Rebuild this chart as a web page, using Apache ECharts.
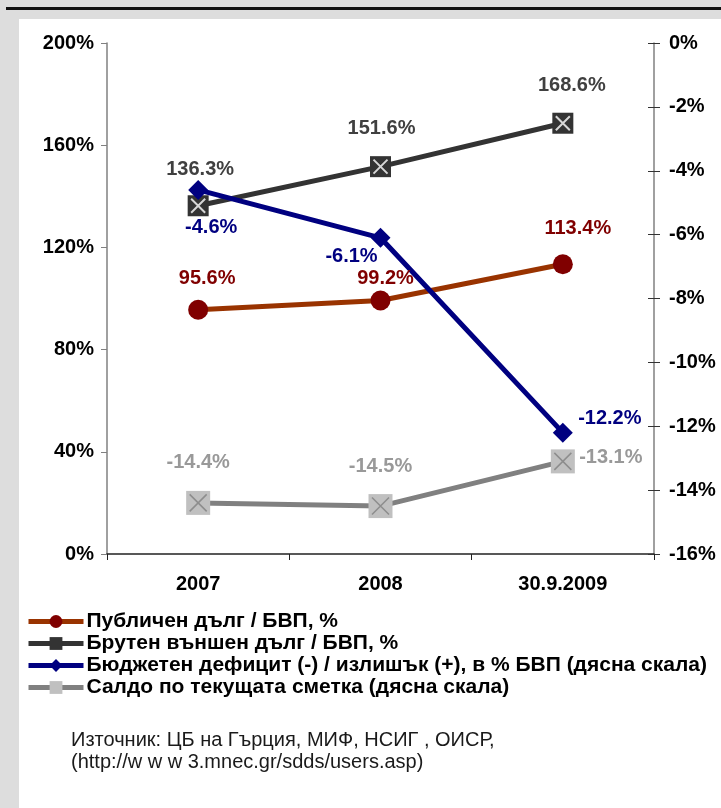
<!DOCTYPE html>
<html>
<head>
<meta charset="utf-8">
<script src="https://cdn.jsdelivr.net/npm/echarts@6/dist/echarts.min.js"></script>
<style>
  html, body { margin: 0; padding: 0; background: #dddddd; }
  #chart { width: 721px; height: 808px; }
</style>
</head>
<body>
<div id="chart"></div>
<script>
// данни
var categories = ['2007', '2008', '30.9.2009'];
var publicDebt = [95.6, 99.2, 113.4];
var externalDebt = [136.3, 151.6, 168.6];
var budgetBalance = [-4.6, -6.1, -12.2];
var currentAccount = [-14.4, -14.5, -13.1];

var seriesNames = [
	'Публичен дълг / БВП, %',
	'Брутен външен дълг / БВП, %',
	'Бюджетен дефицит (-) / излишък (+), в % БВП (дясна скала)',
	'Салдо по текущата сметка (дясна скала)'
];
var sourceLines = [
	'Източник: ЦБ на Гърция, МИФ, НСИГ , ОИСР,',
	'(http://w w w 3.mnec.gr/sdds/users.asp)'
];

var FONT = '"Liberation Sans", Arial, sans-serif';
var crossPath = 'path://M0,0 L10,10 M10,0 L0,10';

function pct(p) { return p.value.toFixed(1) + '%'; }

// подредба на етикетите спрямо точките
function withLabels(values, shifts) {
	return values.map(function(v, i) {
		return { value: v, label: { offset: shifts[i] } };
	});
}

function labelStyle(color) {
	return {
		show: true, position: 'inside', formatter: pct,
		color: color, fontFamily: FONT, fontWeight: 'bold', fontSize: 20
	};
}

var myChart = echarts.init(document.getElementById('chart'));

var option = {
	backgroundColor: '#dddddd',
	animation: false,
	textStyle: { fontFamily: FONT },
	graphic: [
		{ type: 'rect', shape: { x: 19, y: 19, width: 702, height: 789 }, style: { fill: '#ffffff' }, z: -10 },
		{ type: 'rect', shape: { x: 6, y: 7, width: 715, height: 3 }, style: { fill: '#111111' }, z: -10 },
		{ type: 'text', left: 71, top: 730, style: { text: sourceLines[0], font: '20px ' + FONT, fill: '#1a1a1a' } },
		{ type: 'text', left: 71, top: 752, style: { text: sourceLines[1], font: '20px ' + FONT, fill: '#1a1a1a' } }
	],
	grid: { left: 107, right: 67, top: 43, bottom: 254 },
	legend: {
		orient: 'vertical',
		left: 26,
		top: 611,
		padding: 0,
		itemWidth: 55,
		itemHeight: 16,
		itemGap: 1,
		data: seriesNames,
		lineStyle: { width: 5 },
		textStyle: { fontFamily: FONT, fontWeight: 'bold', fontSize: 21, color: '#000', lineHeight: 21, padding: [0, 0, 0, -2] }
	},
	xAxis: {
		type: 'category',
		data: categories,
		boundaryGap: true,
		axisLine: { lineStyle: { color: '#222', width: 1.5 } },
		axisTick: { show: true, length: 6, alignWithLabel: false, lineStyle: { color: '#222' } },
		axisLabel: { margin: 20, color: '#000', fontFamily: FONT, fontWeight: 'bold', fontSize: 20 }
	},
	yAxis: [
		{
			type: 'value', min: 0, max: 200, interval: 40, position: 'left',
			splitLine: { show: false },
			axisLine: { show: true, lineStyle: { color: '#808080', width: 1.5 } },
			axisTick: { show: true, length: 6, lineStyle: { color: '#808080' } },
			axisLabel: { margin: 13, color: '#000', fontFamily: FONT, fontWeight: 'bold', fontSize: 20, formatter: '{value}%' }
		},
		{
			type: 'value', min: -16, max: 0, interval: 2, position: 'right',
			splitLine: { show: false },
			axisLine: { show: true, lineStyle: { color: '#808080', width: 1.5 } },
			axisTick: { show: true, length: 6, lineStyle: { color: '#333' } },
			axisLabel: { margin: 15, color: '#000', fontFamily: FONT, fontWeight: 'bold', fontSize: 20, formatter: '{value}%' }
		},
		{
			type: 'value', min: -16, max: 0, interval: 2, position: 'right',
			splitLine: { show: false },
			axisLine: { show: false },
			axisTick: { show: true, inside: true, length: 6, lineStyle: { color: '#333' } },
			axisLabel: { show: false }
		}
	],
	series: [
		{
			name: seriesNames[0], type: 'line', yAxisIndex: 0,
			data: withLabels(publicDebt, [[9, -31], [5, -22], [15, -36]]),
			symbol: 'circle', symbolSize: [20, 20],
			lineStyle: { color: '#993300', width: 5 },
			itemStyle: { color: '#800000' },
			label: labelStyle('#800000'),
			z: 3
		},
		{
			name: seriesNames[1], type: 'line', yAxisIndex: 0,
			data: withLabels(externalDebt, [[2, -36], [1, -38], [9, -38]]),
			symbol: 'rect', symbolSize: 21,
			lineStyle: { color: '#333333', width: 5 },
			itemStyle: { color: '#333333' },
			label: labelStyle('#404040'),
			z: 2
		},
		{
			name: seriesNames[1] + ' x', type: 'scatter', yAxisIndex: 0,
			data: externalDebt,
			symbol: crossPath, symbolSize: 14,
			itemStyle: { color: 'transparent', borderColor: '#ffffff', borderWidth: 2 },
			silent: true, z: 4
		},
		{
			name: seriesNames[2], type: 'line', yAxisIndex: 1,
			data: withLabels(budgetBalance, [[13, 38], [-29, 19], [47, -14]]),
			symbol: 'diamond', symbolSize: [20, 20],
			lineStyle: { color: '#000080', width: 5 },
			itemStyle: { color: '#000080' },
			label: labelStyle('#000080'),
			z: 3
		},
		{
			name: seriesNames[3], type: 'line', yAxisIndex: 1,
			data: withLabels(currentAccount, [[0, -40], [0, -40], [48, -4]]),
			symbol: 'rect', symbolSize: 24,
			lineStyle: { color: '#808080', width: 5 },
			itemStyle: { color: '#c0c0c0' },
			label: labelStyle('#999999'),
			z: 2
		},
		{
			name: seriesNames[3] + ' x', type: 'scatter', yAxisIndex: 1,
			data: currentAccount,
			symbol: crossPath, symbolSize: 17,
			itemStyle: { color: 'transparent', borderColor: '#808080', borderWidth: 1.5 },
			silent: true, z: 4
		}
	]
};

myChart.setOption(option);
</script>
</body>
</html>
